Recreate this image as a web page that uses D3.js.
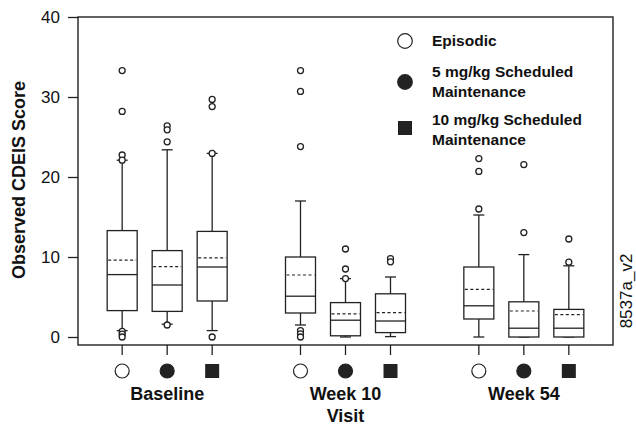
<!DOCTYPE html>
<html>
<head>
<meta charset="utf-8">
<script src="https://cdn.jsdelivr.net/npm/d3@7"></script>
<style>
  body { margin: 0; background: #fff; }
  text { font-family: "Liberation Sans", Arial, Helvetica, sans-serif; fill: #111; }
  .bold { font-weight: bold; }
</style>
</head>
<body>
<div id="chart"></div>
<script>
// visits on the x axis, three treatment arms inside each visit
var visits = ["Baseline", "Week 10", "Week 54"];
var treatments = ["Episodic", "5 mg/kg Scheduled Maintenance", "10 mg/kg Scheduled Maintenance"];
var yTicks = [0, 10, 20, 30, 40];

// box stats, order: Baseline E/5/10, Week 10 E/5/10, Week 54 E/5/10
var q1       = [3.3, 3.2, 4.5, 3.0, 0.15, 0.55, 2.25, 0, 0];
var medians  = [7.8, 6.5, 8.75, 5.1, 2.1, 2.0, 3.9, 1.1, 1.1];
var q3       = [13.3, 10.8, 13.2, 10.0, 4.3, 5.4, 8.75, 4.4, 3.45];
var means    = [9.6, 8.8, 9.9, 7.75, 2.9, 3.05, 5.95, 3.25, 2.8];
var whiskLo  = [0.8, 1.6, 0.8, 1.5, 0, 0.05, 0, 0, 0];
var whiskHi  = [22.1, 23.4, 22.95, 17.0, 7.3, 7.5, 15.25, 10.3, 8.9];
var outliers = [
  [33.3, 28.2, 22.75, 22.1, 0.7, 0.35, 0],
  [26.4, 25.9, 24.4, 1.5],
  [29.7, 28.8, 22.95, 0],
  [33.3, 30.7, 23.8, 0.8, 0.4, 0],
  [11.0, 8.5, 7.3],
  [9.8, 9.4],
  [22.3, 20.7, 16.0],
  [21.55, 13.05],
  [12.25, 9.35]
];

var width = 636, height = 426;
var plotL = 78, plotR = 613, plotT = 17, plotB = 345;
var ink = "#222";

var svg = d3.select("#chart").append("svg")
    .attr("width", width)
    .attr("height", height);

var x = d3.scalePoint().domain(visits).range([plotL, plotR]).padding(0.5);
var xi = d3.scalePoint().domain(treatments).range([-45, 45]);
var y = d3.scaleLinear().domain([-1, 40]).range([plotB, plotT]);

var boxes = [];
visits.forEach(function(v, i) {
  treatments.forEach(function(t, j) {
    var k = i * 3 + j;
    boxes.push({visit: v, trt: t, j: j, q1: q1[k], med: medians[k], q3: q3[k],
      mean: means[k], lo: whiskLo[k], hi: whiskHi[k], out: outliers[k]});
  });
});
function cx(d) { return x(d.visit) + xi(d.trt); }

var bw = 30, cap = 11;

// y axis
var yAxis = svg.append("g")
    .attr("transform", "translate(" + plotL + ",0)")
    .call(d3.axisLeft(y).tickValues(yTicks).tickSize(10).tickPadding(8));
yAxis.select(".domain").remove();
yAxis.selectAll("line").attr("stroke", ink).attr("stroke-width", 1.3);
yAxis.selectAll("text").style("font-size", "17px").attr("fill", "#111")
    .style("font-family", '"Liberation Sans", Arial, sans-serif');

// x ticks under each box
svg.append("g").selectAll("line")
    .data(boxes).enter().append("line")
    .attr("x1", cx).attr("x2", cx)
    .attr("y1", plotB).attr("y2", plotB + 10)
    .attr("stroke", ink).attr("stroke-width", 1.3);

// frame
svg.append("rect")
    .attr("x", plotL).attr("y", plotT)
    .attr("width", plotR - plotL).attr("height", plotB - plotT)
    .attr("fill", "none").attr("stroke", ink).attr("stroke-width", 1.4);

var g = svg.append("g").selectAll("g")
    .data(boxes).enter().append("g");

// whiskers
g.append("line")
    .attr("x1", cx).attr("x2", cx)
    .attr("y1", function(d) { return y(d.hi); })
    .attr("y2", function(d) { return y(d.lo); })
    .attr("stroke", ink).attr("stroke-width", 1.3);
g.selectAll(".cap")
    .data(function(d) { return [{c: cx(d), v: d.hi}, {c: cx(d), v: d.lo}]; })
    .enter().append("line")
    .attr("class", "cap")
    .attr("x1", function(d) { return d.c - cap / 2; })
    .attr("x2", function(d) { return d.c + cap / 2; })
    .attr("y1", function(d) { return y(d.v); })
    .attr("y2", function(d) { return y(d.v); })
    .attr("stroke", ink).attr("stroke-width", 1.3);

// box
g.append("rect")
    .attr("x", function(d) { return cx(d) - bw / 2; })
    .attr("y", function(d) { return y(d.q3); })
    .attr("width", bw)
    .attr("height", function(d) { return y(d.q1) - y(d.q3); })
    .attr("fill", "#fff").attr("stroke", ink).attr("stroke-width", 1.3);

// median
g.append("line")
    .attr("x1", function(d) { return cx(d) - bw / 2; })
    .attr("x2", function(d) { return cx(d) + bw / 2; })
    .attr("y1", function(d) { return y(d.med); })
    .attr("y2", function(d) { return y(d.med); })
    .attr("stroke", ink).attr("stroke-width", 1.3);

// mean, dashed
g.append("line")
    .attr("x1", function(d) { return cx(d) - bw / 2 + 1; })
    .attr("x2", function(d) { return cx(d) + bw / 2 - 1; })
    .attr("y1", function(d) { return y(d.mean); })
    .attr("y2", function(d) { return y(d.mean); })
    .attr("stroke", ink).attr("stroke-width", 1.2)
    .attr("stroke-dasharray", "3,2.5");

// outliers
g.selectAll(".out")
    .data(function(d) { return d.out.map(function(v) { return {c: cx(d), v: v}; }); })
    .enter().append("circle")
    .attr("class", "out")
    .attr("cx", function(d) { return d.c; })
    .attr("cy", function(d) { return y(d.v); })
    .attr("r", 3)
    .attr("fill", "#fff").attr("stroke", ink).attr("stroke-width", 1.3);

// treatment symbols
function symbol(sel, j, size) {
  if (j == 2) {
    sel.append("rect")
      .attr("x", -size).attr("y", -size)
      .attr("width", size * 2).attr("height", size * 2)
      .attr("fill", ink);
  } else {
    sel.append("circle")
      .attr("r", size)
      .attr("fill", j == 1 ? ink : "#fff")
      .attr("stroke", ink).attr("stroke-width", 1.2);
  }
}
boxes.forEach(function(d) {
  var s = svg.append("g").attr("transform", "translate(" + cx(d) + "," + 371 + ")");
  symbol(s, d.j, 7);
});

// visit labels
svg.append("g").selectAll("text")
    .data(visits).enter().append("text")
    .attr("class", "bold")
    .attr("x", function(d) { return x(d); })
    .attr("y", 400)
    .attr("text-anchor", "middle")
    .style("font-size", "18px")
    .text(function(d) { return d; });

svg.append("text")
    .attr("class", "bold")
    .attr("x", (plotL + plotR) / 2)
    .attr("y", 422)
    .attr("text-anchor", "middle")
    .style("font-size", "18px")
    .text("Visit");

svg.append("text")
    .attr("class", "bold")
    .attr("transform", "translate(25," + 180 + ") rotate(-90)")
    .attr("text-anchor", "middle")
    .style("font-size", "18px")
    .text("Observed CDEIS Score");

svg.append("text")
    .attr("transform", "translate(632," + 291 + ") rotate(-90)")
    .attr("text-anchor", "middle")
    .style("font-size", "17px")
    .text("8537a_v2");

// legend
var legendY = [41, 82, 128];
var legendLines = [["Episodic"], ["5 mg/kg Scheduled", "Maintenance"], ["10 mg/kg Scheduled", "Maintenance"]];
var legendBase = [46, 77, 125];
treatments.forEach(function(t, j) {
  var s = svg.append("g").attr("transform", "translate(405," + legendY[j] + ")");
  symbol(s, j, j == 2 ? 7 : 7.3);
  legendLines[j].forEach(function(line, n) {
    svg.append("text")
      .attr("class", "bold")
      .attr("x", 432)
      .attr("y", legendBase[j] + n * 19.5)
      .style("font-size", "15.5px")
      .text(line);
  });
});
</script>
</body>
</html>
